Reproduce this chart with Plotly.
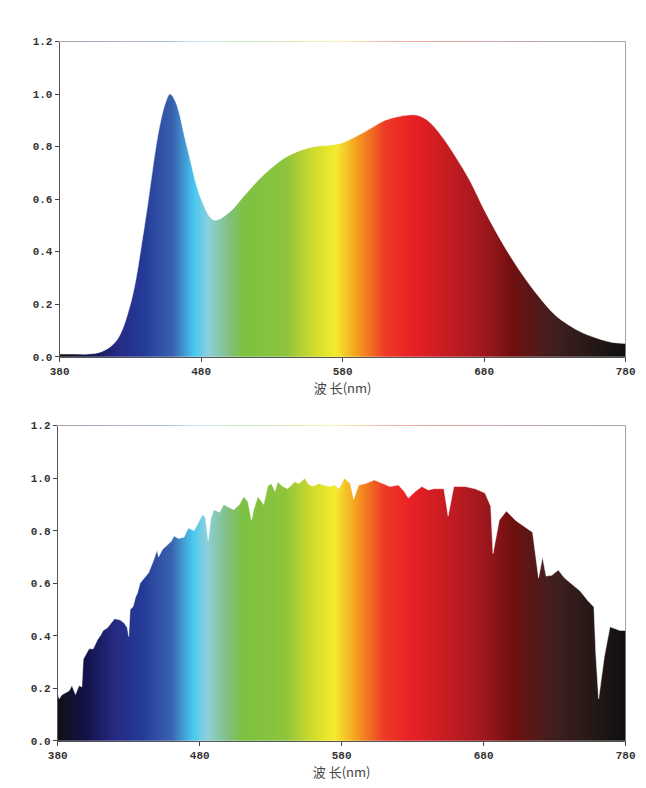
import plotly.graph_objects as go

# LED spectrum (top)
led_nm = [380, 390, 400, 410, 420, 430, 440, 450, 455, 458, 462, 470, 480, 489, 500, 510, 520, 530, 540,
          550, 560, 570, 580, 590, 600, 610, 620, 632, 640, 650, 660, 670, 680, 690, 700, 710, 720,
          730, 740, 750, 760, 770, 780]
led_val = [0.01, 0.01, 0.01, 0.02, 0.06, 0.2, 0.5, 0.86, 0.97, 1.0, 0.97, 0.8, 0.6, 0.52, 0.55, 0.61, 0.67, 0.72, 0.76,
           0.785, 0.80, 0.805, 0.815, 0.84, 0.87, 0.9, 0.915, 0.92, 0.9, 0.84, 0.76, 0.67, 0.56, 0.46, 0.37, 0.29, 0.22,
           0.16, 0.12, 0.09, 0.07, 0.055, 0.05]

# solar spectrum (bottom)
sun_nm = [380, 381, 383, 388, 390, 392.5, 395, 397, 398, 400, 402, 405, 408, 410, 412, 415, 418, 420, 424, 427,
          429, 430, 431, 433, 435, 436, 438, 441, 444, 447, 450, 451, 454, 457, 460, 462, 465, 469,
          472, 476, 479, 482, 484, 486, 488, 490, 494, 497, 500, 504, 508, 511, 514, 516.5, 518, 521, 525,
          528, 530.5, 533, 535, 538, 542, 547, 550, 554, 557, 560, 564, 567, 572, 575, 578, 582,
          586, 588.5, 592, 597, 603, 607, 614, 620, 624, 627, 632, 636.5, 641, 645, 652, 655, 659, 667,
          674, 681, 685, 686.6, 691, 696, 703, 714.5, 718.7, 721.5, 724, 728, 732.6, 737, 742, 748, 753.5,
          757.7, 759, 761, 765, 769, 776, 780]
sun_val = [0.18, 0.16, 0.175, 0.19, 0.21, 0.176, 0.21, 0.205, 0.31, 0.33, 0.35, 0.35, 0.385, 0.4, 0.42, 0.43, 0.45,
           0.465, 0.46, 0.447, 0.43, 0.397, 0.5, 0.51, 0.55, 0.56, 0.6, 0.62, 0.64, 0.68, 0.726, 0.7, 0.73,
           0.744, 0.76, 0.78, 0.77, 0.775, 0.81, 0.8, 0.83, 0.862, 0.85, 0.763, 0.85, 0.88, 0.87, 0.9, 0.89,
           0.88, 0.9, 0.93, 0.91, 0.84, 0.88, 0.93, 0.9, 0.97, 0.98, 0.95, 0.986, 0.97, 0.96, 0.986, 0.98,
           1.0, 0.975, 0.97, 0.98, 0.974, 0.968, 0.975, 0.96, 1.0, 0.98, 0.92, 0.974, 0.98, 0.993, 0.985,
           0.968, 0.974, 0.95, 0.924, 0.95, 0.968, 0.955, 0.96, 0.96, 0.856, 0.968, 0.968, 0.96, 0.943,
           0.893, 0.713, 0.84, 0.875, 0.837, 0.794, 0.62, 0.70, 0.627, 0.63, 0.65, 0.62, 0.596, 0.57, 0.533,
           0.509, 0.335, 0.16, 0.32, 0.434, 0.42, 0.42]

# spectral colour stops
stop_nm = [380, 400, 420, 440, 460, 475, 485, 500, 510, 540, 560, 575, 590, 610, 630, 680, 700, 730, 780]
stop_col = ["#101014", "#12134a", "#262a82", "#243c98", "#3a62b0", "#48c8f0", "#8ed0dc", "#80c080", "#7cc142",
            "#8ec43c", "#d2dc2c", "#f4ec30", "#f5a020", "#ee3a25", "#e82025", "#a0181e", "#701010", "#402020",
            "#101010"]

colorscale = [[(n - 380) / 400, c] for n, c in zip(stop_nm, stop_col)]
band_x = list(range(380, 781))

fig = go.Figure()
for xa, ya, nm, val, shape in [("x", "y", led_nm, led_val, "spline"), ("x2", "y2", sun_nm, sun_val, "linear")]:
    fig.add_trace(go.Heatmap(x=band_x, y=[0, 1.1], z=[band_x, band_x], colorscale=colorscale,
                             zmin=380, zmax=780, zsmooth="fast", showscale=False, xaxis=xa, yaxis=ya,
                             hoverinfo="skip"))
    fig.add_trace(go.Scatter(x=[380, 780], y=[1.2, 1.2], mode="lines", line=dict(width=0),
                             xaxis=xa, yaxis=ya, showlegend=False, hoverinfo="skip"))
    fig.add_trace(go.Scatter(x=nm, y=val, mode="lines", line=dict(width=0.5, color="white", shape=shape),
                             fill="tonexty", fillcolor="white", xaxis=xa, yaxis=ya, showlegend=False))

tickfont = dict(family="Liberation Mono", size=11, color="#333", weight="bold")
xcommon = dict(range=[380, 780], tickvals=[380, 480, 580, 680, 780], ticks="outside", ticklen=4,
               showline=True, linecolor="#555", showgrid=False, zeroline=False, tickfont=tickfont,
               title=dict(text="波 长(nm)", font=dict(family="Noto Sans CJK SC", size=13, color="#444"), standoff=2))
ycommon = dict(range=[0, 1.2], tickvals=[0, 0.2, 0.4, 0.6, 0.8, 1.0, 1.2], tickformat=".1f", ticks="outside",
               ticklen=4, showline=True, linecolor="#555", showgrid=False, zeroline=False, tickfont=tickfont)

fig.update_layout(
    width=646, height=788, margin=dict(l=0, r=0, t=0, b=0),
    plot_bgcolor="white", paper_bgcolor="white",
    xaxis=dict(domain=[43 / 646, 627 / 646], anchor="y", **xcommon),
    yaxis=dict(domain=[1 - 349 / 788, 1 - 29 / 788], anchor="x", **ycommon),
    xaxis2=dict(domain=[41 / 646, 627 / 646], anchor="y2", **xcommon),
    yaxis2=dict(domain=[1 - 739 / 788, 1 - 419 / 788], anchor="x2", **ycommon),
)

fig.write_html("out.html")
